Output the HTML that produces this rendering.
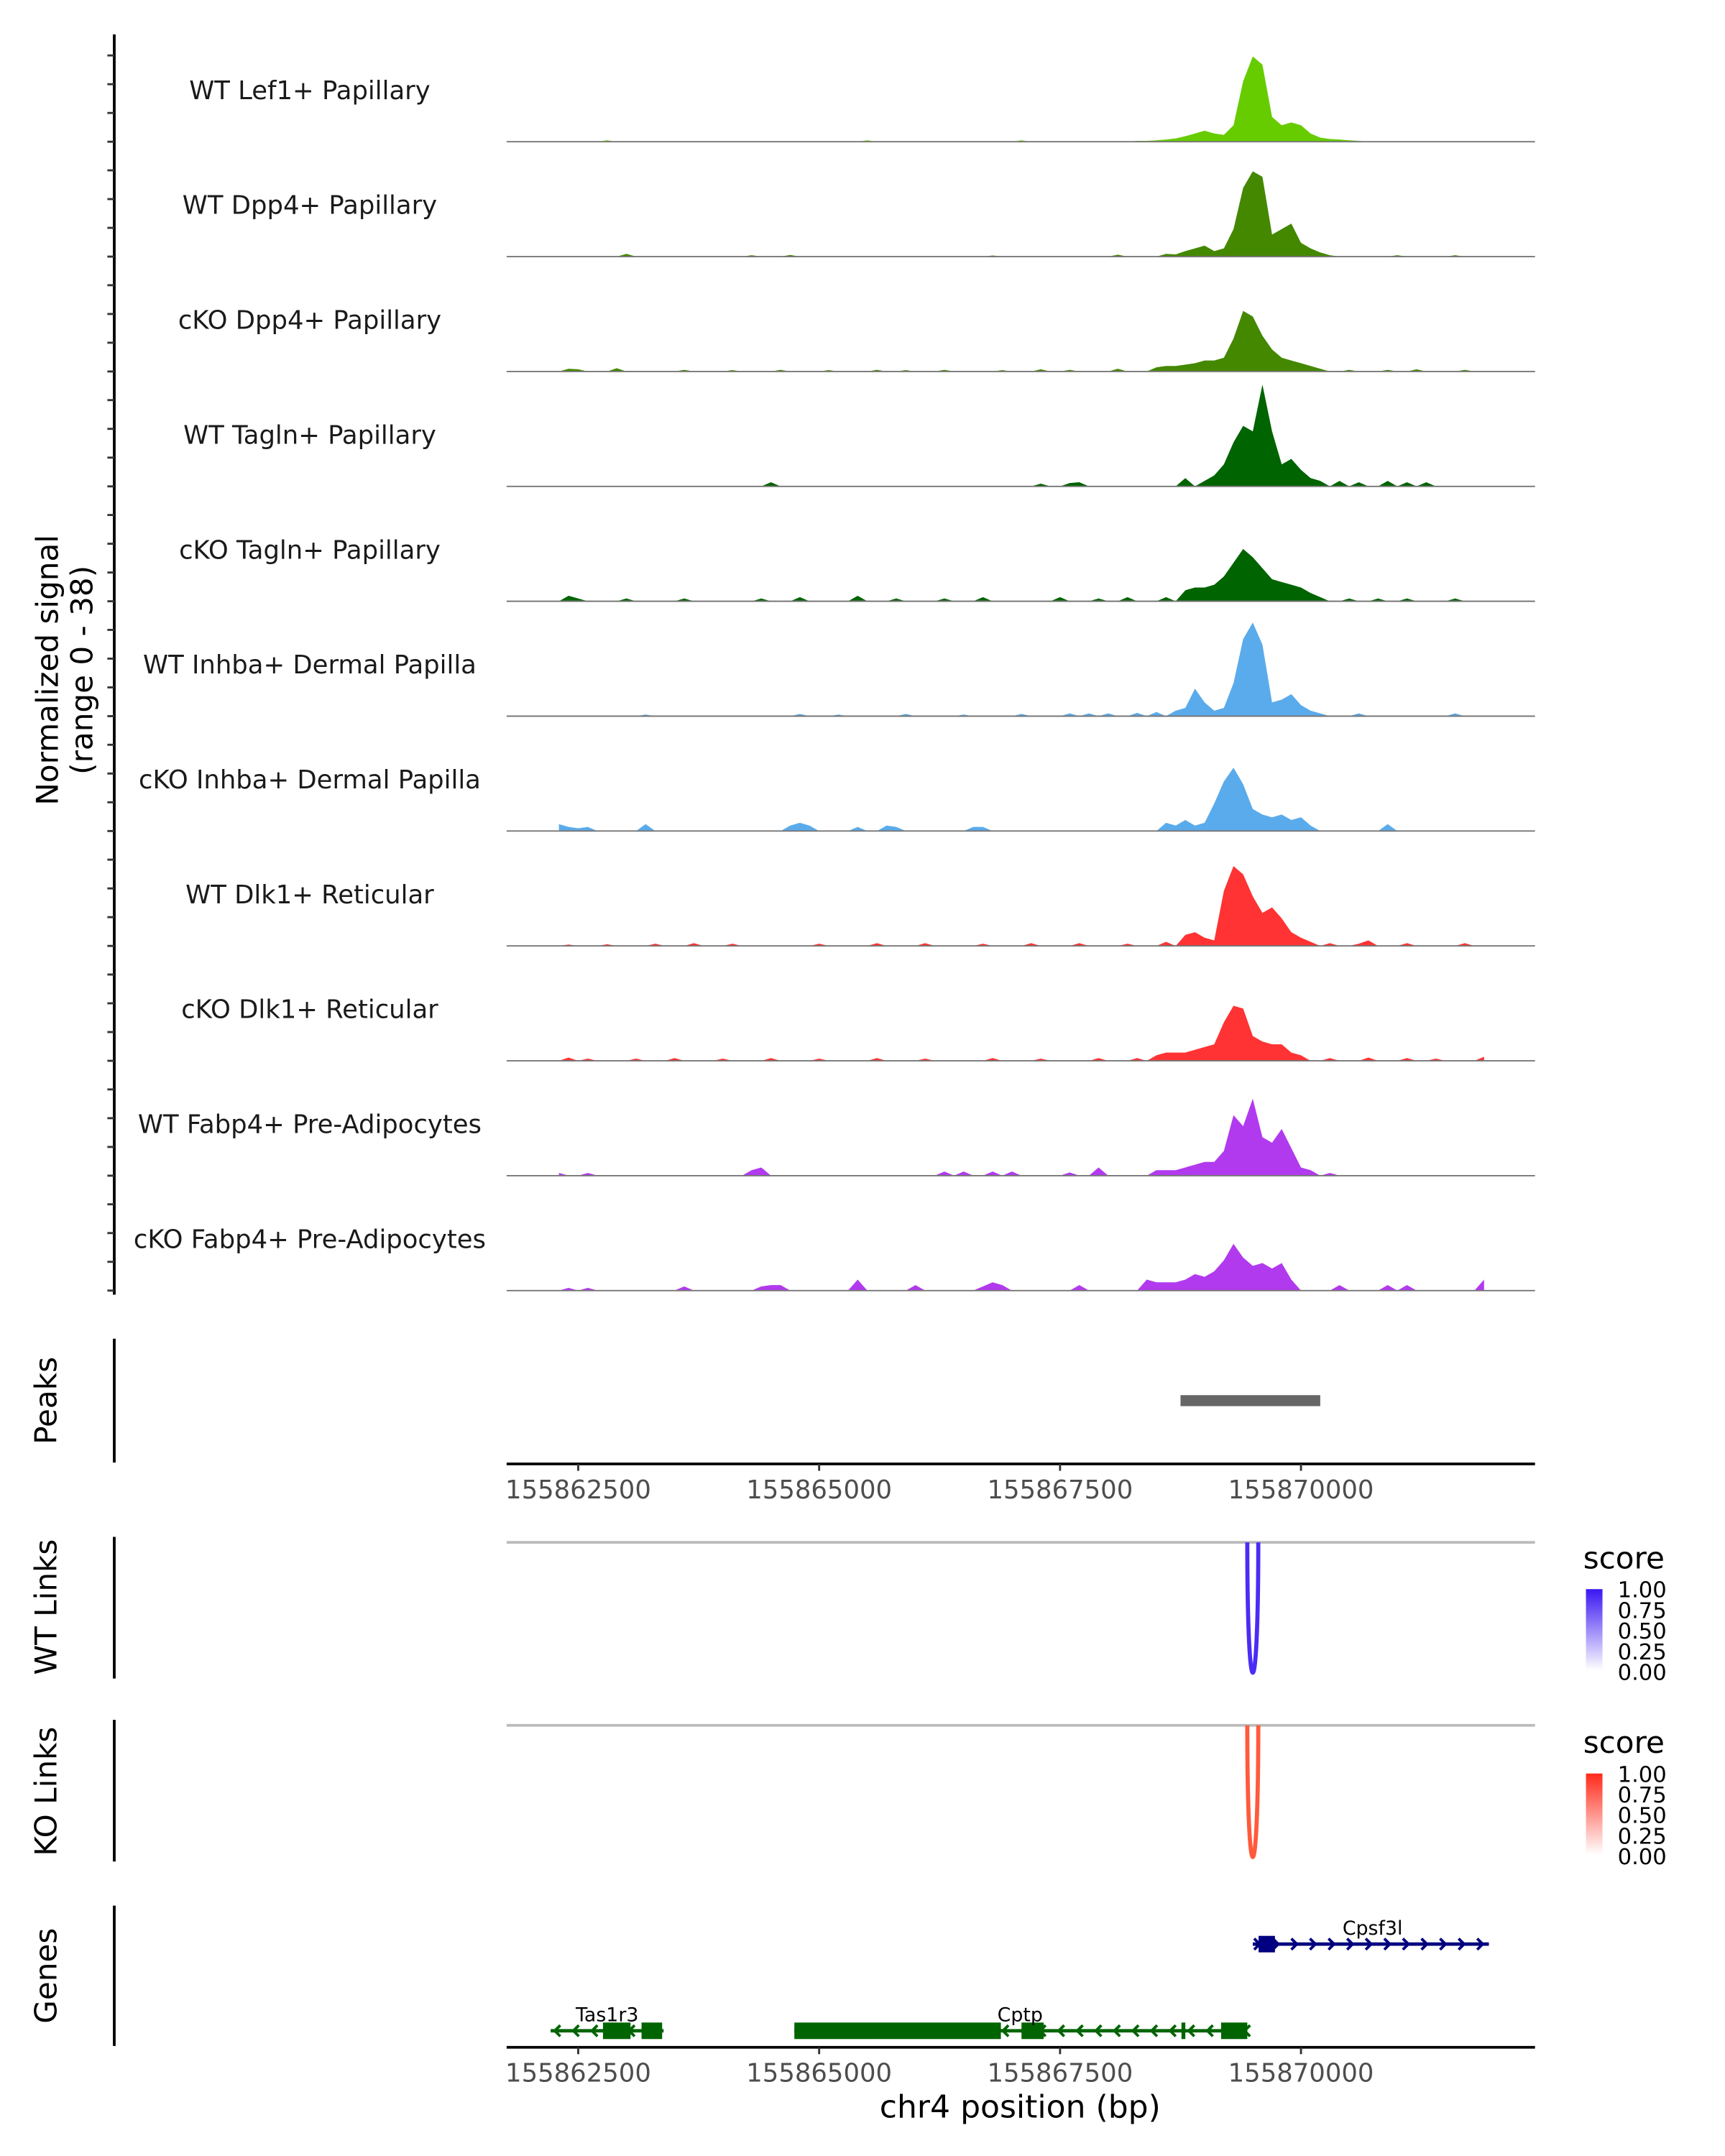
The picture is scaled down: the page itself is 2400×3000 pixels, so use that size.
<!DOCTYPE html>
<html><head><meta charset="utf-8"><title>Coverage plot chr4</title>
<style>html,body{margin:0;padding:0;background:#fff}svg{display:block}text{font-family:"DejaVu Sans","Liberation Sans",sans-serif}</style>
</head><body>
<svg id="chart" xmlns="http://www.w3.org/2000/svg" width="2400" height="3000" viewBox="0 0 1253 1567" preserveAspectRatio="none">
<g id="tracks"></g>
<g id="axes"></g>
<text transform="translate(42,487) rotate(-90)" text-anchor="middle" font-size="22" fill="#000">Normalized signal</text>
<text transform="translate(67,487) rotate(-90)" text-anchor="middle" font-size="22" fill="#000">(range 0 - 38)</text>
<text transform="translate(41,1018) rotate(-90)" text-anchor="middle" font-size="22">Peaks</text>
<text transform="translate(41,1168) rotate(-90)" text-anchor="middle" font-size="22">WT Links</text>
<text transform="translate(41,1302) rotate(-90)" text-anchor="middle" font-size="22">KO Links</text>
<text transform="translate(41,1436) rotate(-90)" text-anchor="middle" font-size="22">Genes</text>
<text x="741" y="1539" text-anchor="middle" font-size="23">chr4 position (bp)</text>
<defs>
<linearGradient id="gb" x1="0" y1="0" x2="0" y2="1"><stop offset="0" stop-color="#3a16f2"/><stop offset="1" stop-color="#ffffff"/></linearGradient>
<linearGradient id="gr" x1="0" y1="0" x2="0" y2="1"><stop offset="0" stop-color="#ff2a1a"/><stop offset="1" stop-color="#ffffff"/></linearGradient>
</defs>
<g>
<text x="1150" y="1140" font-size="22">score</text>
<rect x="1152" y="1155" width="12" height="59" fill="url(#gb)"/>
<text x="1175" y="1161" font-size="16">1.00</text><text x="1175" y="1176" font-size="16">0.75</text><text x="1175" y="1191" font-size="16">0.50</text><text x="1175" y="1206" font-size="16">0.25</text><text x="1175" y="1221" font-size="16">0.00</text>
</g>
<g>
<text x="1150" y="1274" font-size="22">score</text>
<rect x="1152" y="1289" width="12" height="59" fill="url(#gr)"/>
<text x="1175" y="1295" font-size="16">1.00</text><text x="1175" y="1310" font-size="16">0.75</text><text x="1175" y="1325" font-size="16">0.50</text><text x="1175" y="1340" font-size="16">0.25</text><text x="1175" y="1355" font-size="16">0.00</text>
</g>
</svg>
<script>
const NS="http://www.w3.org/2000/svg";
const binStart=155862300, binSize=100, nBins=97;
const xTicks=[155862500,155865000,155867500,155870000];
const trackNames=["WT Lef1+ Papillary","WT Dpp4+ Papillary","cKO Dpp4+ Papillary","WT Tagln+ Papillary","cKO Tagln+ Papillary","WT Inhba+ Dermal Papilla","cKO Inhba+ Dermal Papilla","WT Dlk1+ Reticular","cKO Dlk1+ Reticular","WT Fabp4+ Pre-Adipocytes","cKO Fabp4+ Pre-Adipocytes"];
const trackColors=["#66cc00","#448800","#448800","#006400","#006400","#5aabeb","#5aabeb","#ff3333","#ff3333","#b23aee","#b23aee"];
// sparse [bin, signal] pairs per track
const lef1WT=[[5,0.5],[32,0.5],[48,0.5],[60,0.3],[61,0.3],[62,0.5],[63,0.8],[64,1.2],[65,2],[66,3],[67,4],[68,3],[69,2.5],[70,6],[71,22],[72,31],[73,28],[74,9],[75,6],[76,7],[77,6],[78,3],[79,1.5],[80,1],[81,0.8],[82,0.5],[83,0.3]];
const dpp4WT=[[7,1],[20,0.5],[24,0.6],[45,0.4],[58,0.7],[63,1],[64,0.8],[65,2],[66,3],[67,4],[68,2],[69,3],[70,10],[71,25],[72,31],[73,29],[74,8],[75,10],[76,12],[77,5],[78,3],[79,1.5],[80,0.5],[87,0.5],[93,0.5]];
const dpp4KO=[[1,1],[2,0.8],[6,1.2],[13,0.6],[18,0.5],[23,0.6],[28,0.5],[33,0.6],[36,0.5],[40,0.6],[46,0.5],[50,0.8],[53,0.6],[58,1],[62,1.5],[63,2],[64,2],[65,2.5],[66,3],[67,4],[68,4],[69,5],[70,12],[71,22],[72,20],[73,13],[74,8],[75,5],[76,4],[77,3],[78,2],[79,1],[82,0.6],[86,0.6],[89,0.8],[94,0.6]];
const taglnWT=[[22,1.5],[50,1],[53,1.2],[54,1.5],[65,3],[67,2],[68,4],[69,8],[70,16],[71,22],[72,20],[73,37],[74,20],[75,8],[76,10],[77,6],[78,3],[79,2],[81,2],[83,1.5],[86,2],[88,1.5],[90,1.5]];
const taglnKO=[[1,2],[2,1],[7,1],[13,1],[21,1],[25,1.5],[31,2],[35,1],[40,1],[44,1.5],[52,1.5],[56,1],[59,1.5],[63,1.5],[65,4],[66,5],[67,5],[68,6],[69,9],[70,14],[71,19],[72,16],[73,12],[74,8],[75,7],[76,6],[77,5],[78,3],[79,1.5],[82,1],[85,1],[88,1],[93,1]];
const inhbaWT=[[9,0.6],[25,0.8],[29,0.6],[36,0.8],[42,0.6],[48,0.8],[53,1],[55,1],[57,1],[60,1.2],[62,1.5],[64,2],[65,3],[66,10],[67,5],[68,2],[69,3],[70,12],[71,28],[72,34],[73,26],[74,5],[75,6],[76,8],[77,4],[78,2],[79,1],[83,1],[93,1]];
const inhbaKO=[[0,2.5],[1,1.5],[2,1],[3,1.5],[9,2.5],[24,2],[25,3],[26,2],[31,1.5],[34,2],[35,1.5],[43,1.5],[44,1.5],[63,3],[64,2],[65,4],[66,2],[67,3],[68,10],[69,18],[70,23],[71,17],[72,8],[73,6],[74,5],[75,6],[76,4],[77,5],[78,2],[86,2.5]];
const dlk1WT=[[1,0.5],[5,0.6],[10,0.8],[14,1],[18,0.8],[27,0.8],[33,1],[38,1],[44,0.8],[49,1],[54,1],[59,0.8],[63,1.5],[65,4],[66,5],[67,3],[68,2],[69,20],[70,29],[71,26],[72,18],[73,12],[74,14],[75,10],[76,5],[77,3],[78,1.5],[80,1],[83,0.8],[84,2],[88,1],[94,1]];
const dlk1KO=[[1,1.2],[3,0.8],[8,0.8],[12,1],[17,0.8],[22,1],[27,0.8],[33,1],[38,0.8],[45,1],[50,0.8],[56,1],[60,1],[62,2],[63,3],[64,3],[65,3],[66,4],[67,5],[68,6],[69,14],[70,20],[71,19],[72,9],[73,7],[74,6],[75,6],[76,3],[77,2],[80,1],[84,1.2],[88,1],[91,0.8],[96,1.5]];
const fabp4WT=[[0,1],[3,1],[20,2],[21,3],[40,1.5],[42,1.5],[45,1.5],[47,1.5],[53,1.2],[56,3],[62,2],[63,2],[64,2],[65,3],[66,4],[67,5],[68,5],[69,9],[70,22],[71,18],[72,28],[73,14],[74,12],[75,17],[76,10],[77,3],[78,2],[80,1]];
const fabp4KO=[[1,1],[3,1],[13,1.5],[21,1.5],[22,2],[23,2],[31,4],[37,2],[44,1.5],[45,3],[46,2],[54,2],[61,4],[62,3],[63,3],[64,3],[65,4],[66,6],[67,5],[68,7],[69,11],[70,17],[71,12],[72,9],[73,10],[74,8],[75,10],[76,4],[81,2],[86,2],[88,2],[96,4]];
const trackData=[lef1WT,dpp4WT,dpp4KO,taglnWT,taglnKO,inhbaWT,inhbaKO,dlk1WT,dlk1KO,fabp4WT,fabp4KO];
const peakStart=155868750, peakEnd=155870200;
const linkPairs=[[155869443,155869557]];

const X0=368,X1=1115, yTop=25, base0=103, trackGap=83.5, pxPerUnit=2;
function xs(bp){return 420+(bp-155862500)*0.07;}
function baseY(k){return base0+k*trackGap;}
function el(tag,attrs,parent){const e=document.createElementNS(NS,tag);for(const k in attrs)e.setAttribute(k,attrs[k]);parent.appendChild(e);return e;}
const tg=document.getElementById('tracks');
const ag=document.getElementById('axes');

trackData.forEach((pairs,k)=>{
  const vals=new Array(nBins).fill(0);
  pairs.forEach(p=>{vals[p[0]]=p[1];});
  const b=baseY(k);
  let d="M"+X0+","+b+" L"+xs(binStart)+","+b;
  for(let i=0;i<nBins;i++){const x=xs(binStart+i*binSize);d+=" L"+x.toFixed(1)+","+(b-vals[i]*pxPerUnit).toFixed(1);}
  d+=" L"+xs(binStart+(nBins-1)*binSize)+","+b+" Z";
  const p=el('path',{d:d,fill:trackColors[k]},tg);
  
  
  const l=el('line',{x1:X0,x2:X1,y1:b,y2:b,stroke:'#777',"stroke-width":1},tg);
  
  
  const t=el('text',{x:225,y:b-31,"text-anchor":"middle","font-size":"18.5",fill:'#1a1a1a'},tg);
  t.textContent=trackNames[k];
  
  
});

const ya=el('line',{x1:83,x2:83,y1:yTop,y2:941,stroke:'#000',"stroke-width":2},ag);


for(let k=0;k<trackData.length;k++){for(let j=0;j<4;j++){const y=baseY(k)-j*20.9;
  const tk=el('line',{x1:78,x2:83,y1:y,y2:y,stroke:'#333',"stroke-width":1.5},ag);
  
  }}
[[973,1063],[1117,1220],[1250,1353],[1385,1487]].forEach(r=>{
  const a=el('line',{x1:83,x2:83,y1:r[0],y2:r[1],stroke:'#000',"stroke-width":2},ag);
  
  
});
const pk=el('rect',{x:xs(peakStart),y:1014,width:xs(peakEnd)-xs(peakStart),height:8,fill:'#666'},ag);


[[1064,1089],[1488,1513]].forEach(r=>{
  const a=el('line',{x1:X0,x2:X1,y1:r[0],y2:r[0],stroke:'#000',"stroke-width":2},ag);
  
  
  xTicks.forEach(v=>{
    const tk=el('line',{x1:xs(v),x2:xs(v),y1:r[0],y2:r[0]+5,stroke:'#333',"stroke-width":1.5},ag);
    
    
    const tl=el('text',{x:xs(v),y:r[1],"text-anchor":"middle","font-size":"18.5",fill:'#4d4d4d'},ag);
    tl.textContent=v;
    
    
  });
});
[[1121,1216,'#4a2cf5','wt-link-arc'],[1254,1350,'#ff5a3c','ko-link-arc']].forEach(r=>{
  const g=el('line',{x1:X0,x2:X1,y1:r[0],y2:r[0],stroke:'#bbb',"stroke-width":2},ag);
  
  
  linkPairs.forEach(pr=>{
    const a=xs(pr[0]),b=xs(pr[1]),depth=(r[1]-r[0])*1.33;
    const arc=el('path',{d:`M${a},${r[0]} C${a},${r[0]+depth} ${b},${r[0]+depth} ${b},${r[0]}`,fill:'none',stroke:r[2],"stroke-width":3},ag);
    
    
  });
});
function gene(name,y,start,end,boxes,dir,color,labelX){
  const g=el('g',{},ag);
  
  
  el('line',{x1:xs(start),x2:xs(end),y1:y,y2:y,stroke:color,"stroke-width":2.5},g);
  boxes.forEach(b=>el('rect',{x:xs(b[0]),y:y-6,width:Math.max(2,xs(b[1])-xs(b[0])),height:12,fill:color},g));
  for(let x=xs(start)+4;x<=xs(end);x+=13.5){
    el('path',{d:dir>0?`M${x-3},${y-4} L${x+1},${y} L${x-3},${y+4}`:`M${x+3},${y-4} L${x-1},${y} L${x+3},${y+4}`,fill:'none',stroke:color,"stroke-width":2},g);
  }
  const t=el('text',{x:labelX,y:y-7,"text-anchor":"middle","font-size":"14"},g);
  t.textContent=name;
}
gene('Cpsf3l',1413,155869500,155871950,[[155869560,155869730]],1,'#000080',997);
gene('Tas1r3',1476,155862214,155863386,[[155862757,155863043],[155863157,155863371]],-1,'#006400',441);
gene('Cptp',1476,155864743,155869443,[[155864743,155866886],[155867100,155867330],[155868760,155868800],[155869171,155869443]],-1,'#006400',741);
</script>
</body></html>
